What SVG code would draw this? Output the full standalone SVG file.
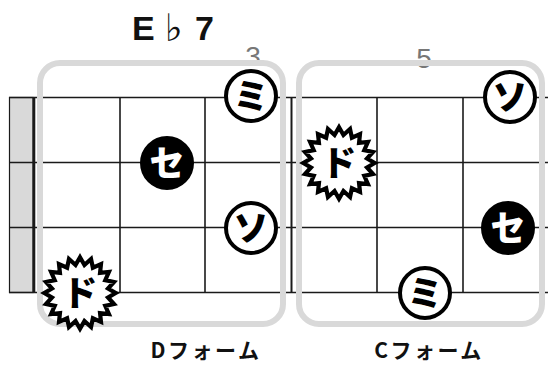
<svg xmlns="http://www.w3.org/2000/svg" xmlns:xlink="http://www.w3.org/1999/xlink" width="548" height="365" viewBox="0 0 548 365">
<style>
.str{stroke:#1a1a1a;stroke-width:1.6;fill:none}
.fret{stroke:#1a1a1a;stroke-width:1.6;fill:none}
.box{fill:none;stroke:#d9d9d9;stroke-width:6}
.pos{font-family:"Liberation Sans","Noto Sans",sans-serif;font-size:28px;fill:#777;text-anchor:middle}
.form{font-family:"Noto Sans CJK JP","Noto Sans",sans-serif;font-weight:700;font-size:21px;fill:#111;text-anchor:middle;letter-spacing:2.5px}
.open{fill:#fff;stroke:#000;stroke-width:4}
.fill{fill:#000;stroke:#000;stroke-width:4}
.burst{fill:#fff;stroke:#000;stroke-width:4;stroke-linejoin:miter;stroke-miterlimit:10}
.lbl{font-family:"Noto Sans CJK JP",sans-serif;font-weight:900;font-size:35px;text-anchor:middle}
.blk{fill:#000}
.wht{fill:#fff}
</style>
<defs>
<path id="burst" d="M34,0 L26.7,4.23 L32.34,10.51 L24.06,12.26 L27.51,19.98 L19.09,19.09 L19.98,27.51 L12.26,24.06 L10.51,32.34 L4.23,26.7 L0,34 L-4.23,26.7 L-10.51,32.34 L-12.26,24.06 L-19.98,27.51 L-19.09,19.09 L-27.51,19.98 L-24.06,12.26 L-32.34,10.51 L-26.7,4.23 L-34,0 L-26.7,-4.23 L-32.34,-10.51 L-24.06,-12.26 L-27.51,-19.98 L-19.09,-19.09 L-19.98,-27.51 L-12.26,-24.06 L-10.51,-32.34 L-4.23,-26.7 L0,-34 L4.23,-26.7 L10.51,-32.34 L12.26,-24.06 L19.98,-27.51 L19.09,-19.09 L27.51,-19.98 L24.06,-12.26 L32.34,-10.51 L26.7,-4.23 Z"/>
</defs>
<rect width="548" height="365" fill="#fff"/>
<g id="title">
<text x="132" y="40" font-family="Liberation Sans, Arial, sans-serif" font-weight="700" font-size="34" fill="#111">E</text>
<text x="165" y="41" font-family="DejaVu Sans, sans-serif" font-size="38" fill="#111">♭</text>
<text x="195" y="40" font-family="Liberation Sans, Arial, sans-serif" font-weight="700" font-size="34" fill="#111">7</text>
</g>
<g id="fretboard">
<rect x="9.5" y="97.5" width="23.5" height="195" fill="#d9d9d9" stroke="#1a1a1a" stroke-width="1.2"/>
<line class="fret" x1="34" y1="97.5" x2="34" y2="292.5" style="stroke-width:2.6"/>
<line class="fret" x1="120" y1="97.5" x2="120" y2="292.5"/>
<line class="fret" x1="205" y1="97.5" x2="205" y2="292.5"/>
<line class="fret" x1="291.5" y1="97.5" x2="291.5" y2="292.5" style="stroke-width:2"/>
<line class="fret" x1="377" y1="97.5" x2="377" y2="292.5"/>
<line class="fret" x1="463" y1="97.5" x2="463" y2="292.5"/>
<line class="str" x1="9" y1="97.5" x2="548" y2="97.5"/>
<line class="str" x1="9" y1="162.5" x2="548" y2="162.5"/>
<line class="str" x1="9" y1="227.5" x2="548" y2="227.5"/>
<line class="str" x1="9" y1="292.5" x2="548" y2="292.5"/>
</g>
<g id="positions">
<text class="pos" x="253" y="66">3</text>
<text class="pos" x="424" y="68">5</text>
</g>
<g id="boxes">
<rect id="box-d" class="box" x="40" y="63" width="243" height="261" rx="20"/>
<rect id="box-c" class="box" x="299" y="63" width="243" height="261" rx="20"/>
</g>
<g id="d-mi"><circle class="open" cx="251" cy="96" r="25"/><text class="lbl blk" x="251" y="109">ミ</text></g>
<g id="d-se"><circle class="fill" cx="167" cy="163" r="25"/><text class="lbl wht" x="167" y="176">セ</text></g>
<g id="d-so"><circle class="open" cx="251" cy="228" r="25"/><text class="lbl blk" x="251" y="241">ソ</text></g>
<g id="d-do"><use xlink:href="#burst" href="#burst" class="burst" transform="translate(80,293) scale(1.05)"/><text class="lbl blk" x="80" y="306">ド</text></g>
<g id="c-so"><circle class="open" cx="510" cy="97" r="25"/><text class="lbl blk" x="510" y="110">ソ</text></g>
<g id="c-do"><use xlink:href="#burst" href="#burst" class="burst" transform="translate(339,163) scale(1.05)"/><text class="lbl blk" x="339" y="176">ド</text></g>
<g id="c-se"><circle class="fill" cx="508" cy="228" r="25"/><text class="lbl wht" x="508" y="241">セ</text></g>
<g id="c-mi"><circle class="open" cx="425" cy="293" r="25"/><text class="lbl blk" x="425" y="306">ミ</text></g>
<g id="labels">
<text class="form" x="206" y="358">Dフォーム</text>
<text class="form" x="429" y="358">Cフォーム</text>
</g>
</svg>
